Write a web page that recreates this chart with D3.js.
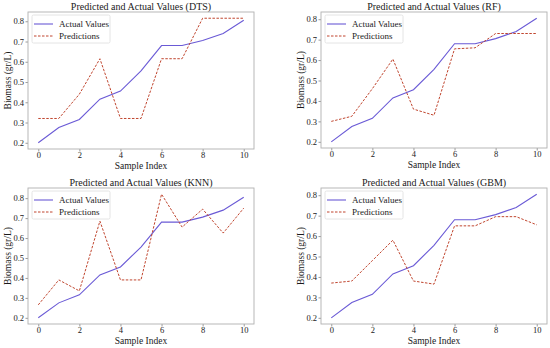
<!DOCTYPE html>
<html><head><meta charset="utf-8">
<script src="https://cdn.jsdelivr.net/npm/d3@7"></script>
<style>body{margin:0;background:#fff}svg{display:block}svg text{font-family:"Liberation Serif","Times New Roman",serif}</style>
</head><body>
<svg id="c" width="550" height="348"></svg>
<script>
const sampleIndex = [0,1,2,3,4,5,6,7,8,9,10];
const actualValues = [0.20,0.275,0.315,0.415,0.455,0.555,0.68,0.68,0.705,0.74,0.805];
const predDTS = [0.32,0.32,0.44,0.615,0.32,0.32,0.615,0.615,0.815,0.815,0.815];
const predRF  = [0.30,0.325,0.46,0.605,0.36,0.33,0.655,0.66,0.73,0.73,0.73];
const predKNN = [0.265,0.39,0.335,0.685,0.39,0.39,0.82,0.655,0.745,0.625,0.75];
const predGBM = [0.37,0.38,0.48,0.58,0.38,0.365,0.65,0.65,0.695,0.695,0.655];
const modelNames = ["DTS","RF","KNN","GBM"];
const xTicks = [0,2,4,6,8,10];
const yTicks = [0.2,0.3,0.4,0.5,0.6,0.7,0.8];

const preds = [predDTS,predRF,predKNN,predGBM];
const boxes = [
  {x:28,y:12,w:226,h:137},
  {x:321,y:12,w:226,h:136},
  {x:28,y:188,w:226,h:136},
  {x:321,y:188,w:226,h:136}
];
const svg = d3.select("#c");
const ink = "#1a1a1a";

modelNames.forEach((name,i)=>{
  const b = boxes[i], p = preds[i];
  const all = actualValues.concat(p);
  const mn = d3.min(all), mx = d3.max(all), pad = (mx-mn)*0.05;
  const x = d3.scaleLinear().domain([-0.5,10.5]).range([b.x,b.x+b.w]);
  const y = d3.scaleLinear().domain([mn-pad,mx+pad]).range([b.y+b.h,b.y]);
  const g = svg.append("g");
  const xa = g.append("g").attr("transform",`translate(0,${b.y+b.h})`)
    .call(d3.axisBottom(x).tickValues(xTicks).tickSize(2.5).tickPadding(0.5).tickFormat(d3.format("d")));
  const ya = g.append("g").attr("transform",`translate(${b.x},0)`)
    .call(d3.axisLeft(y).tickValues(yTicks).tickSize(2.5).tickPadding(1.5).tickFormat(d3.format(".1f")));
  [xa,ya].forEach(a=>{
    a.select(".domain").remove();
    a.selectAll("line").attr("stroke","#555").attr("stroke-width",0.6);
    a.selectAll("text").attr("font-size",8.5).attr("fill",ink).attr("font-family",null);
  });
  g.append("rect").attr("x",b.x).attr("y",b.y).attr("width",b.w).attr("height",b.h)
    .attr("fill","none").attr("stroke","#b0b0b0").attr("stroke-width",0.9);
  const line = d3.line().x((d,j)=>x(sampleIndex[j])).y(d=>y(d));
  g.append("path").datum(actualValues).attr("d",line).attr("fill","none")
    .attr("stroke","#6a5ad6").attr("stroke-width",1.1);
  g.append("path").datum(p).attr("d",line).attr("fill","none")
    .attr("stroke","#c0452e").attr("stroke-width",1).attr("stroke-dasharray","2.5,1.5");
  g.append("text").attr("x",b.x+b.w/2).attr("y",b.y-2).attr("text-anchor","middle")
    .attr("font-size",10).attr("fill",ink)
    .text(`Predicted and Actual Values (${name})`);
  g.append("text").attr("x",b.x+b.w/2).attr("y",b.y+b.h+19.5).attr("text-anchor","middle")
    .attr("font-size",9.5).attr("fill",ink).text("Sample Index");
  g.append("text").attr("transform",`translate(${b.x-17},${b.y+b.h/2}) rotate(-90)`)
    .attr("text-anchor","middle").attr("font-size",9.5).attr("fill",ink)
    .text("Biomass (gr/L)");
  const lx = b.x+4, ly = b.y+3;
  g.append("rect").attr("x",lx).attr("y",ly).attr("width",78).attr("height",28)
    .attr("fill","#fff").attr("stroke","#ddd").attr("stroke-width",0.8).attr("rx",1.5);
  g.append("line").attr("x1",lx+2).attr("x2",lx+21).attr("y1",ly+9).attr("y2",ly+9)
    .attr("stroke","#6a5ad6").attr("stroke-width",1.1);
  g.append("line").attr("x1",lx+2).attr("x2",lx+21).attr("y1",ly+21).attr("y2",ly+21)
    .attr("stroke","#c0452e").attr("stroke-width",1).attr("stroke-dasharray","2.5,1.5");
  g.append("text").attr("x",lx+27).attr("y",ly+12).attr("font-size",9)
    .attr("fill",ink).text("Actual Values");
  g.append("text").attr("x",lx+27).attr("y",ly+24).attr("font-size",9)
    .attr("fill",ink).text("Predictions");
});
</script>
</body></html>
